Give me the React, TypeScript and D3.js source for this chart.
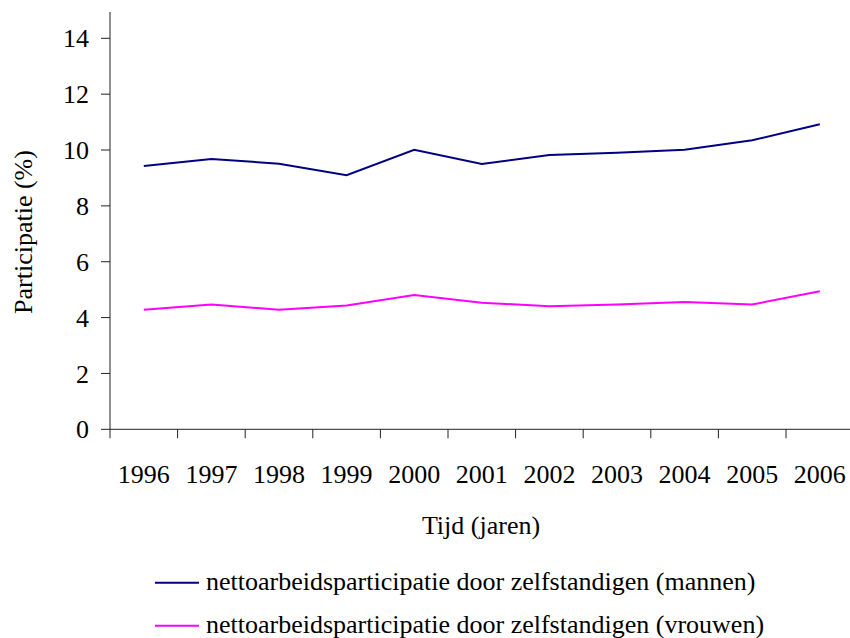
import { useEffect, useRef } from "react";
import * as d3 from "d3";

const years = ["1996", "1997", "1998", "1999", "2000", "2001", "2002", "2003", "2004", "2005", "2006"];
const mannen = [9.43, 9.68, 9.51, 9.1, 10.01, 9.5, 9.82, 9.9, 10.01, 10.35, 10.92];
const vrouwen = [4.28, 4.47, 4.28, 4.43, 4.81, 4.53, 4.41, 4.47, 4.56, 4.47, 4.94];
const yTicks = [0, 2, 4, 6, 8, 10, 12, 14];

const seriesNames = [
  "nettoarbeidsparticipatie door zelfstandigen (mannen)",
  "nettoarbeidsparticipatie door zelfstandigen (vrouwen)",
];
const seriesColors = ["#000080", "#ff00ff"];

const App = () => {
  const svgRef = useRef(null);

  useEffect(() => {
    if (!svgRef.current) return;
    d3.select(svgRef.current).selectAll("*").remove();

    const w = 850;
    const h = 638;
    const fs = 26;

    const svg = d3
      .select(svgRef.current)
      .attr("width", w)
      .attr("height", h)
      .style("font-family", "Liberation Serif, DejaVu Serif, Times New Roman, serif")
      .style("font-size", fs + "px");

    const xScale = d3.scaleBand().domain(years).range([110, 110 + 11 * 67.6]);
    const yScale = d3.scaleLinear().domain([0, 14]).range([429.3, 38.3]);

    // y axis
    const yAxis = svg.append("g");
    yAxis
      .append("line")
      .attr("x1", 110)
      .attr("x2", 110)
      .attr("y1", 12)
      .attr("y2", yScale(0))
      .attr("stroke", "#222")
      .attr("stroke-width", 1);
    yTicks.forEach((t) => {
      yAxis
        .append("line")
        .attr("x1", 101)
        .attr("x2", 110)
        .attr("y1", yScale(t))
        .attr("y2", yScale(t))
        .attr("stroke", "#222");
      yAxis
        .append("text")
        .attr("x", 89)
        .attr("y", yScale(t))
        .attr("dy", "0.35em")
        .attr("text-anchor", "end")
        .text(t);
    });

    // x axis
    const xAxis = svg.append("g");
    xAxis
      .append("line")
      .attr("x1", 110)
      .attr("x2", 854)
      .attr("y1", yScale(0))
      .attr("y2", yScale(0))
      .attr("stroke", "#222");
    years.forEach((yr) => {
      const x0 = xScale(yr);
      xAxis
        .append("line")
        .attr("x1", x0)
        .attr("x2", x0)
        .attr("y1", yScale(0))
        .attr("y2", yScale(0) + 9)
        .attr("stroke", "#222");
      xAxis
        .append("text")
        .attr("x", x0 + xScale.bandwidth() / 2)
        .attr("y", 483)
        .attr("text-anchor", "middle")
        .text(yr);
    });

    // axis titles
    svg
      .append("text")
      .attr("x", 481)
      .attr("y", 534)
      .attr("text-anchor", "middle")
      .text("Tijd (jaren)");
    svg
      .append("text")
      .attr("transform", "translate(32,232) rotate(-90)")
      .attr("text-anchor", "middle")
      .text("Participatie (%)");

    // lines
    const line = d3
      .line<number>()
      .x((d, i) => xScale(years[i]) + xScale.bandwidth() / 2)
      .y((d) => yScale(d));

    [mannen, vrouwen].forEach((data, i) => {
      svg
        .append("path")
        .datum(data)
        .attr("fill", "none")
        .attr("stroke", seriesColors[i])
        .attr("stroke-width", 2)
        .attr("d", line);
    });

    // legend
    seriesNames.forEach((name, i) => {
      const ly = 582.7 + i * 43;
      svg
        .append("line")
        .attr("x1", 155)
        .attr("x2", 199)
        .attr("y1", ly)
        .attr("y2", ly)
        .attr("stroke", seriesColors[i])
        .attr("stroke-width", 2);
      svg
        .append("text")
        .attr("x", 206)
        .attr("y", ly + 7.5)
        .text(name);
    });
  }, []);

  return (
    <svg
      ref={svgRef}
      style={{ position: "absolute", left: 0, top: 0, background: "#fff" }}
    />
  );
};

export default App;
